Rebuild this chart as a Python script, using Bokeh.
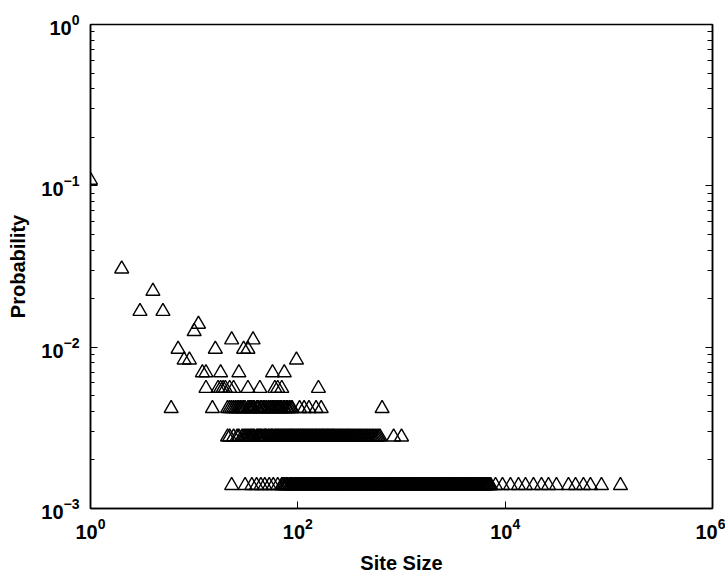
from bokeh.plotting import figure
from bokeh.models import FixedTicker, LogAxis, CustomJSTickFormatter
from bokeh.embed import file_html
from bokeh.resources import INLINE

total_sites = 720

# site sizes observed at each count (probability = count / total_sites)
sizes_c78 = [1]
sizes_c22 = [2]
sizes_c16 = [4]
sizes_c12 = [3, 5]
sizes_c10 = [11]
sizes_c9 = [10]
sizes_c8 = [23, 37]
sizes_c7 = [7, 16, 30, 33]
sizes_c6 = [8, 9, 97]
sizes_c5 = [12, 13, 18, 27, 57, 74]
sizes_c4 = [13, 17, 18, 19, 20, 22, 24, 33, 43, 60, 64, 70, 158]
sizes_c3 = [6, 15, 21, 22, 23, 24, 25, 26, 27, 28, 29, 30, 31, 33, 34, 35, 36,
            37, 38, 40, 41, 42, 44, 45, 47, 48, 50, 52, 54, 55, 57, 58, 60, 62,
            64, 66, 68, 70, 73, 75, 78, 80, 83, 86, 88, 104, 115, 128, 150,
            168, 650]
sizes_c2 = [21, 22, 24, 26, 27, 29, 30, 31, 32, 33, 34, 35, 36, 37, 38, 40, 41,
            42, 43, 44, 45, 47, 48, 49, 50, 52, 53, 55, 56, 57, 59, 61, 62, 64,
            65, 67, 69, 70, 72, 74, 76, 78, 80, 82, 84, 86, 88, 90, 92, 95, 97,
            100, 102, 105, 107, 110, 112, 115, 118, 121, 124, 127, 130, 134,
            137, 140, 144, 148, 151, 155, 159, 163, 167, 172, 176, 180, 185,
            190, 194, 199, 204, 210, 215, 220, 226, 233, 240, 247, 254, 261,
            268, 276, 285, 293, 302, 310, 318, 328, 338, 349, 360, 372, 385,
            397, 410, 425, 440, 455, 470, 487, 505, 522, 540, 560, 580, 600,
            620, 840, 1000]
sizes_c1 = [23, 31, 36, 40, 44, 48, 53, 58, 64,
            70, 71, 73, 75, 77, 79, 80, 83, 85, 86, 88, 90, 92, 95, 97, 99, 101,
            103, 104, 107, 109, 112, 115, 116, 118, 121, 124, 126, 129, 132,
            136, 139, 142, 145, 147, 150, 153, 157, 160, 164, 168, 171, 173,
            177, 181, 185, 190, 193, 197, 201, 205, 210, 214, 218, 222, 228,
            233, 237, 241, 246, 250, 256, 263, 268, 272, 278, 284, 290, 296,
            300, 305, 311, 318, 325, 333, 340, 347, 356, 366, 372, 378, 386,
            395, 402, 410, 419, 428, 437, 446, 453, 461, 472, 484, 494, 505,
            513, 522, 534, 547, 558, 570, 581, 592, 606, 620, 630, 641, 655,
            668, 684, 699, 712, 724, 740, 755, 772, 790, 806, 822, 841, 860,
            876, 893, 914, 935, 951, 968, 989, 1010, 1031, 1052, 1074, 1096,
            1118, 1140, 1168, 1195, 1221, 1247, 1272, 1298, 1325, 1352, 1384,
            1415, 1442, 1470, 1501, 1533, 1568, 1604, 1635, 1666, 1703, 1740,
            1776, 1812, 1851, 1890, 1932, 1975, 2015, 2055, 2101, 2148, 2194,
            2240, 2285, 2330, 2383, 2436, 2488, 2540, 2593, 2646, 2704, 2762,
            2821, 2880, 2944, 3008, 3069, 3130, 3199, 3268, 3336, 3405, 3482,
            3560, 3631, 3702, 3786, 3870, 3950, 4030, 4120, 4210, 4297, 4385,
            4478, 4570, 4670, 4770, 4872, 4975, 5082, 5190, 5300, 5410, 5527,
            5645, 5767, 5890, 6015, 6140, 6270, 6400, 6540, 6680, 6825, 6970,
            7100, 7250,
            8070, 9420, 11250, 13440, 15700, 18750, 22400, 26170, 31260, 40800,
            47700, 56900, 66500, 84900, 129500]

groups = [(78, sizes_c78), (22, sizes_c22), (16, sizes_c16), (12, sizes_c12),
          (10, sizes_c10), (9, sizes_c9), (8, sizes_c8), (7, sizes_c7),
          (6, sizes_c6), (5, sizes_c5), (4, sizes_c4), (3, sizes_c3),
          (2, sizes_c2), (1, sizes_c1)]

x_major = [1, 1e2, 1e4, 1e6]
y_major = [1e-3, 1e-2, 1e-1, 1]

site_size = []
probability = []
for count, sizes in groups:
    for s in sizes:
        site_size.append(s)
        probability.append(count / total_sites)

p = figure(x_axis_type="log", y_axis_type="log",
           x_range=(1, 1e6), y_range=(1e-3, 1),
           frame_width=622, frame_height=484,
           min_border_left=90, min_border_right=13,
           min_border_top=24, min_border_bottom=67,
           output_backend="svg", toolbar_location=None,
           background_fill_color="white", border_fill_color="white")

p.scatter(site_size, probability, marker="triangle", size=14,
          fill_color=None, line_color="black", line_width=1.4)

p.grid.visible = False
p.outline_line_color = "black"
p.outline_line_width = 1.5

y_minor = [d * m for d in y_major[:-1] for m in range(2, 10)]

p.xaxis.ticker = FixedTicker(ticks=x_major, minor_ticks=[])
p.yaxis.ticker = FixedTicker(ticks=y_major, minor_ticks=y_minor)

for ax in (p.xaxis[0], p.yaxis[0]):
    ax.major_tick_in = 7
    ax.major_tick_out = 0
    ax.minor_tick_in = 4
    ax.minor_tick_out = 0
    ax.axis_line_color = "black"
    ax.axis_line_width = 1.5
    ax.major_tick_line_color = "black"
    ax.minor_tick_line_color = "black"
    ax.major_label_text_font = "Liberation Sans"
    ax.major_label_text_font_style = "bold"
    ax.major_label_text_font_size = "20px"
    ax.major_label_text_color = "black"
    ax.axis_label_text_font = "Liberation Sans"
    ax.axis_label_text_font_style = "bold"
    ax.axis_label_text_color = "black"
    ax.axis_label_text_font_size = "20px"

p.xaxis.axis_label = "Site Size"
p.xaxis.major_label_standoff = 9
p.xaxis.axis_label_standoff = 10
p.yaxis.axis_label = "Probability"
p.yaxis.major_label_standoff = 11
p.yaxis.axis_label_standoff = 9

right = LogAxis(ticker=FixedTicker(ticks=y_major, minor_ticks=y_minor),
                formatter=CustomJSTickFormatter(code="return ''"),
                major_tick_in=7, major_tick_out=0,
                minor_tick_in=5, minor_tick_out=0,
                major_label_text_font_size="1px", major_label_standoff=0,
                axis_line_color="black", axis_line_width=1.5)
p.add_layout(right, "right")

open("out.html", "w").write(file_html(p, INLINE))
